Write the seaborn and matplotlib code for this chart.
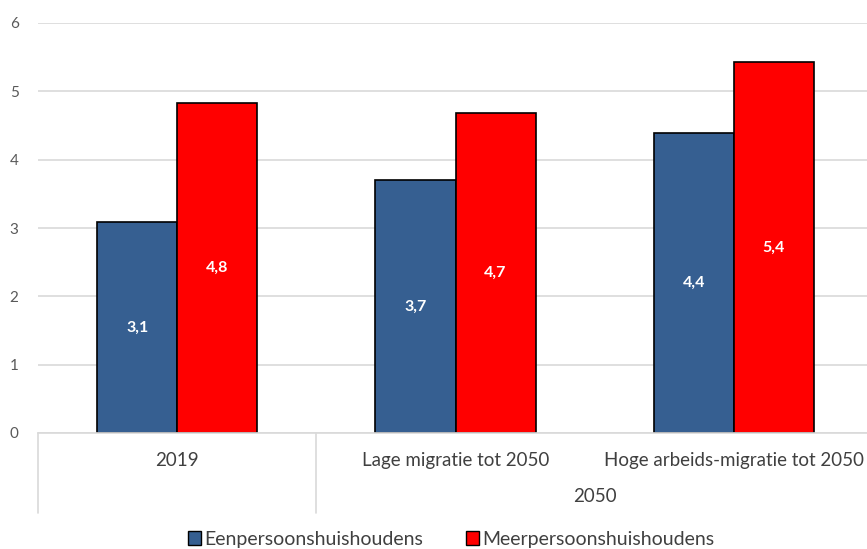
import numpy as np
import pandas as pd
import seaborn as sns
import matplotlib.pyplot as plt
from matplotlib.patches import Patch
import matplotlib.transforms as mtransforms

categories = ['2019', 'Lage migratie tot 2050', 'Hoge arbeids-migratie tot 2050']
groups = ['', '2050', '2050']
eenpersoons = [3.09, 3.70, 4.39]
meerpersoons = [4.83, 4.69, 5.43]
labels_een = ['3,1', '3,7', '4,4']
labels_meer = ['4,8', '4,7', '5,4']
series = ['Eenpersoonshuishoudens', 'Meerpersoonshuishoudens']
colors = ['#365F91', '#FF0000']

df = pd.DataFrame({
    'categorie': categories * 2,
    'reeks': [series[0]] * 3 + [series[1]] * 3,
    'waarde': eenpersoons + meerpersoons,
})

sns.set_style('white')
plt.rcParams['font.family'] = ['Lato', 'DejaVu Sans']

fig = plt.figure(figsize=(8.67, 5.49), dpi=100)
ax = fig.add_axes([38 / 867, 116 / 549, 835 / 867, 410 / 549])

sns.barplot(data=df, x='categorie', y='waarde', hue='reeks', palette=colors,
            order=categories, hue_order=series, width=0.575, gap=0,
            edgecolor='black', linewidth=1.2, saturation=1, ax=ax, legend=False)

ax.set_ylim(0, 6)
ax.set_xlim(-0.5, 2.5)
ax.set_yticks(range(0, 7))
ax.yaxis.grid(True, color='#d9d9d9', linewidth=1.2)
ax.set_axisbelow(True)
for s in ['top', 'right', 'left']:
    ax.spines[s].set_visible(False)
ax.spines['bottom'].set_color('#d9d9d9')
ax.spines['bottom'].set_linewidth(1.2)
ax.tick_params(axis='y', length=0, labelsize=11, labelcolor='#595959', pad=14)
ax.set_xticks([])
ax.set_xlabel('')
ax.set_ylabel('')

# waardelabels midden in de balken
for bars, labs in zip(ax.containers, [labels_een, labels_meer]):
    for bar, lab in zip(bars, labs):
        ax.text(bar.get_x() + bar.get_width() / 2, bar.get_height() / 2, lab,
                ha='center', va='center', color='white', fontsize=11.5, fontweight='bold')

# categorie-as met twee niveaus
trans = mtransforms.blended_transform_factory(ax.transData, ax.transAxes)
for i, c in enumerate(categories):
    ax.text(i, -0.068, c, transform=trans, ha='center', va='center',
            fontsize=13.5, color='#404040')
ax.text(1.5, -0.156, '2050', transform=trans, ha='center', va='center',
        fontsize=13.5, color='#404040')
for xv in [-0.5, 0.5]:
    ax.plot([xv, xv], [0, -0.195], transform=trans, color='#d9d9d9',
            linewidth=1.2, clip_on=False)

handles = [Patch(facecolor=colors[0], edgecolor='black', label=series[0]),
           Patch(facecolor=colors[1], edgecolor='black', label=series[1])]
fig.legend(handles=handles, loc='center', bbox_to_anchor=(451 / 867, 10 / 549),
           ncol=2, frameon=False, fontsize=14, handlelength=0.7,
           handleheight=0.7, handletextpad=0.15, columnspacing=2.2,
           labelcolor='#404040')

fig.savefig('out.png', dpi=100)
